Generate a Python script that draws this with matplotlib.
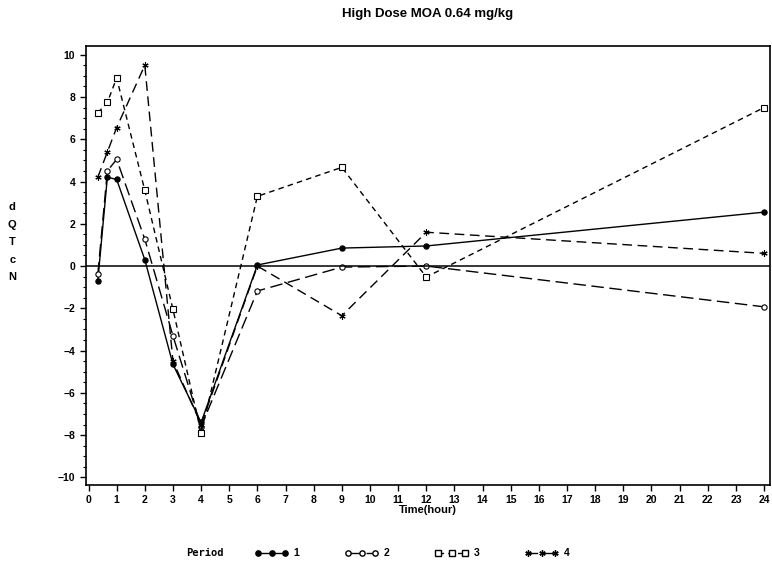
import numpy as np
import matplotlib
matplotlib.use("Agg")
import matplotlib.pyplot as plt
from matplotlib.ticker import MultipleLocator, AutoMinorLocator
from matplotlib.lines import Line2D

# time points (hours)
hours = [0.33, 0.67, 1, 2, 3, 4, 6, 9, 12, 24]

# dQTcN by period
period1 = [-0.7, 4.2, 4.1, 0.3, -4.65, -7.4, 0.05, 0.85, 0.95, 2.55]
period2 = [-0.4, 4.5, 5.05, 1.27, -3.3, -7.6, -1.18, -0.05, 0.0, -1.93]
period3 = [7.25, 7.74, 8.9, 3.58, -2.05, -7.9, 3.3, 4.67, -0.52, 7.5]
period4 = [4.2, 5.4, 6.55, 9.5, -4.5, -7.5, 0.0, -2.35, 1.6, 0.6]

labels = ["1", "2", "3", "4"]

plt.rcParams['font.family'] = ['Liberation Sans', 'DejaVu Sans']

fig = plt.figure(figsize=(7.72, 5.71), dpi=100)
ax = fig.add_axes([0.111, 0.151, 0.886, 0.768])

star = (6, 2, 0)
styles = [
    dict(ls='-', marker='o', mfc='black', ms=3.8),
    dict(ls=(0, (9, 4)), marker='o', mfc='white', ms=3.8),
    dict(ls=(0, (4, 3)), marker='s', mfc='white', ms=3.8),
    dict(ls=(0, (7, 4)), marker=star, mfc='black', ms=4.5),
]

for vals, st, lab in zip([period1, period2, period3, period4], styles, labels):
    ax.plot(hours, vals, color='black', lw=1.0, mec='black', mew=0.8,
            label=lab, **st)

ax.axhline(0, color='black', lw=1.1)

ax.set_xlim(-0.1, 24.2)
ax.set_ylim(-10.35, 10.4)
ax.xaxis.set_major_locator(MultipleLocator(1))
ax.yaxis.set_major_locator(MultipleLocator(2))
ax.yaxis.set_minor_locator(AutoMinorLocator(4))
ax.tick_params(axis='both', direction='out', labelsize=7.5, width=1, length=4)
ax.tick_params(axis='y', which='minor', direction='out', length=2, width=0.8)
for lab in ax.get_xticklabels() + ax.get_yticklabels():
    lab.set_fontweight('bold')
for sp in ax.spines.values():
    sp.set_linewidth(1.2)

ax.set_title("High Dose MOA 0.64 mg/kg", fontsize=9.5, fontweight='bold', pad=21)
ax.set_xlabel("Time(hour)", fontsize=8, fontweight='bold', labelpad=0)

fig.text(0.016, 0.576, "d\nQ\nT\nc\nN", fontsize=8, fontweight='bold',
         va='center', ha='center', linespacing=1.95)

fig.text(0.241, 0.031, "Period", fontsize=7.5, fontweight='bold',
         family='DejaVu Sans Mono', va='center')
leg = fig.legend(handles=[
    Line2D([], [], color='black', lw=1, ls=styles[i]['ls'], marker=styles[i]['marker'],
           mfc=styles[i]['mfc'], mec='black', ms=styles[i]['ms'])
    for i in range(4)], labels=labels, ncol=4, loc='center left',
    bbox_to_anchor=(0.318, 0.031), frameon=False, fontsize=7.5,
    handlelength=3.2, columnspacing=4.4, handletextpad=0.5, numpoints=3)
for t in leg.get_texts():
    t.set_fontweight('bold')

fig.savefig("out.png", dpi=100)
